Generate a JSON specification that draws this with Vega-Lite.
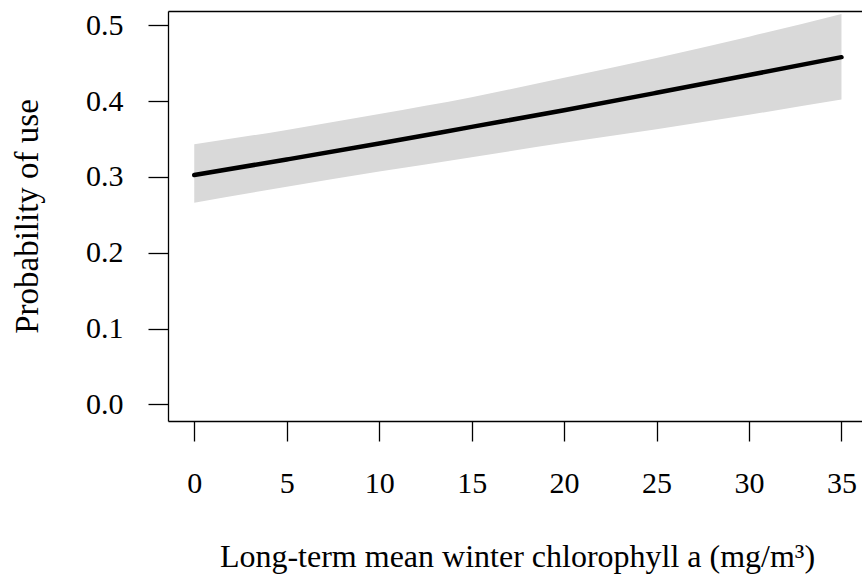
{
  "$schema": "https://vega.github.io/schema/vega-lite/v6.json",
  "autosize": "none",
  "width": 694,
  "height": 410,
  "padding": {"left": 168, "top": 11, "right": 0, "bottom": 158},
  "background": "white",
  "config": {
    "view": {"stroke": null},
    "font": "Liberation Serif",
    "axis": {
      "labelFont": "Liberation Serif",
      "titleFont": "Liberation Serif",
      "labelFontSize": 30,
      "titleFontSize": 31,
      "labelColor": "black",
      "titleColor": "black",
      "titleFontWeight": "normal",
      "domainColor": "black",
      "domainWidth": 1.3,
      "tickColor": "black",
      "tickWidth": 1.3,
      "tickSize": 20,
      "grid": false
    }
  },
  "data": {
    "values": [
      {"chl": 0, "fit": 0.3025, "lo": 0.266, "hi": 0.343},
      {"chl": 5, "fit": 0.323, "lo": 0.287, "hi": 0.362},
      {"chl": 10, "fit": 0.344, "lo": 0.307, "hi": 0.383},
      {"chl": 15, "fit": 0.366, "lo": 0.326, "hi": 0.405},
      {"chl": 20, "fit": 0.388, "lo": 0.345, "hi": 0.431},
      {"chl": 25, "fit": 0.411, "lo": 0.363, "hi": 0.457},
      {"chl": 30, "fit": 0.4345, "lo": 0.382, "hi": 0.485},
      {"chl": 35, "fit": 0.458, "lo": 0.402, "hi": 0.515}
    ]
  },
  "resolve": {"axis": {"x": "independent"}},
  "layer": [
    {
      "mark": {"type": "area", "color": "#d9d9d9", "opacity": 1, "interpolate": "monotone"},
      "encoding": {
        "x": {
          "field": "chl", "type": "quantitative",
          "scale": {"domain": [-1.42, 36.11], "nice": false, "zero": false},
          "axis": {
            "orient": "bottom",
            "values": [0, 5, 10, 15, 20, 25, 30, 35],
            "labelBaseline": "alphabetic",
            "labelPadding": 51,
            "labelFlush": false,
            "title": "Long-term mean winter chlorophyll a (mg/m³)",
            "titleFontSize": 32,
            "titleBaseline": "alphabetic",
            "titleX": 349,
            "titleY": 145
          }
        },
        "y": {
          "field": "lo", "type": "quantitative",
          "scale": {"domain": [-0.022, 0.5189], "nice": false, "zero": false},
          "axis": {
            "values": [0, 0.1, 0.2, 0.3, 0.4, 0.5],
            "format": ".1f",
            "labelPadding": 25,
            "labelFlush": false,
            "labelBaseline": "middle",
            "title": "Probability of use",
            "titleFontSize": 33,
            "titleBaseline": "alphabetic",
            "titleX": -131,
            "titleY": 205
          }
        },
        "y2": {"field": "hi"}
      }
    },
    {
      "mark": {"type": "line", "color": "black", "strokeWidth": 4.5, "strokeCap": "round", "interpolate": "monotone"},
      "encoding": {
        "x": {
          "field": "chl", "type": "quantitative",
          "axis": {"orient": "top", "labels": false, "ticks": false, "title": null}
        },
        "y": {"field": "fit", "type": "quantitative"}
      }
    }
  ]
}
